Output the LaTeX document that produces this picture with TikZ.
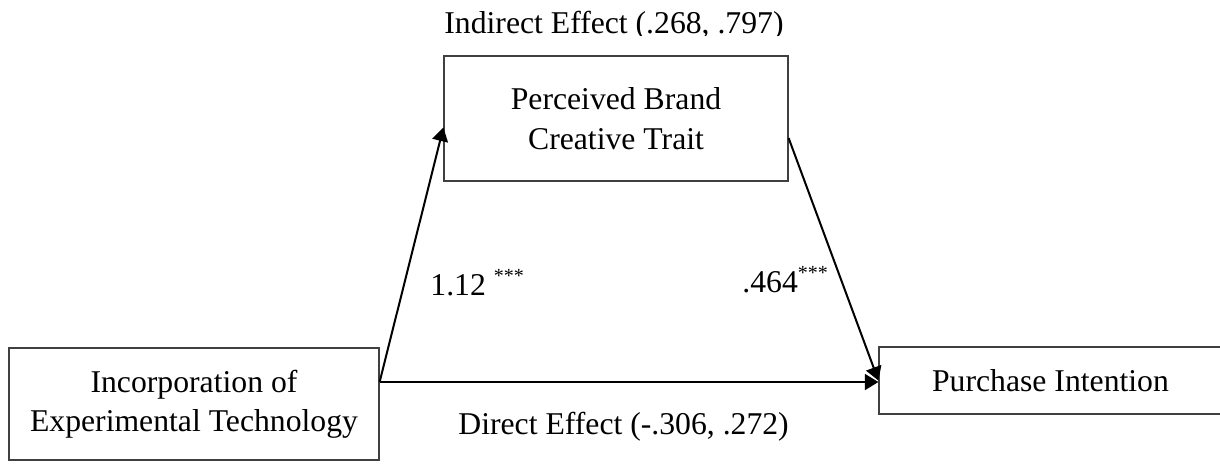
\documentclass[tikz,border=0pt]{standalone}
\usepackage{fontspec}
\setmainfont{Liberation Serif}
\usetikzlibrary{arrows.meta}
\newcommand{\sig}{\raisebox{6.5pt}{\fontsize{10}{10}\selectfont ***}}
\begin{document}
\begin{tikzpicture}[x=0.5pt,y=-0.5pt,
  every node/.style={font=\fontsize{15.85}{19.7}\selectfont, inner sep=0pt},
  varbox/.style={draw=black!75, line width=0.6pt, align=center},
  path/.style={line width=1pt, -{Triangle[length=6.8pt,width=8pt]}},
  lbl/.style={anchor=base west}]
\useasboundingbox (0,0) rectangle (1220,463);

% variables
\node[varbox, minimum width=172pt, minimum height=62.5pt] (med) at (616,118.5) {Perceived Brand\\Creative Trait};
\node[varbox, minimum width=185pt, minimum height=56pt] (iv) at (194,404) {Incorporation of\\Experimental Technology};
\node[varbox, minimum width=171.5pt, minimum height=33.5pt] (dv) at (1050.5,380.5) {Purchase Intention};

% paths
\coordinate (src) at ([yshift=11pt]iv.east);
\draw[path] (src) -- ([yshift=-4.5pt]med.west);
\draw[path] ([yshift=-9.75pt]med.east) -- (dv.west);
\draw[path] (src) -- (src -| dv.west);

% coefficients
\node[lbl] (a) at (430,295) {1.12 \sig};
\node[lbl] (b) at (742,292) {.464\sig};
\node[anchor=base west] (de) at (458,434) {Direct Effect (-.306, .272)};
\begin{scope}
  \clip (0,0) rectangle (1220,35.5);
  \node[anchor=base] (ie) at (614,33) {Indirect Effect (.268, .797)};
\end{scope}
\end{tikzpicture}
\end{document}
